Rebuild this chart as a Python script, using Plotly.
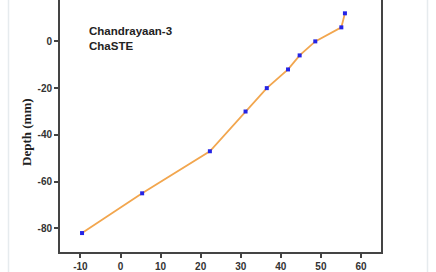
import plotly.graph_objects as go

temperature = [-9.6, 5.4, 22.3, 31.2, 36.5, 41.8, 44.7, 48.6, 55.1, 56.0]
depth = [-82, -65, -47, -30, -20, -12, -6, 0, 6, 12]
x_ticks = [-10, 0, 10, 20, 30, 40, 50, 60]
y_ticks = [-80, -60, -40, -20, 0]

fig = go.Figure()
fig.add_trace(go.Scatter(
    x=temperature, y=depth, mode="lines+markers",
    line=dict(color="#f2a64e", width=1.8),
    marker=dict(symbol="square", size=4, color="#2424e6"),
    showlegend=False,
))

axis_font = dict(family="Arial, Liberation Sans, sans-serif", size=10, color="#333333")
fig.update_xaxes(
    range=[-15.1, 65], tickvals=x_ticks,
    ticktext=[f"<b>{v}</b>" for v in x_ticks],
    showgrid=False, zeroline=False,
    showline=True, linecolor="#444444", linewidth=2, mirror=False,
    ticks="outside", ticklen=4, tickwidth=1.5, tickcolor="#444444",
    tickfont=axis_font,
)
fig.update_yaxes(
    range=[-90.1, 17.7], tickvals=y_ticks,
    ticktext=[f"<b>{v}</b>" for v in y_ticks],
    showgrid=False, zeroline=False,
    showline=True, linecolor="#444444", linewidth=2, mirror=True,
    ticks="outside", ticklen=4, tickwidth=1.5, tickcolor="#444444",
    tickfont=axis_font,
)

fig.add_annotation(
    xref="paper", yref="paper", x=(27 - 60) / 321, y=1 - 134 / 256,
    xanchor="center", yanchor="middle", showarrow=False, textangle=-90,
    text="<b>Depth (mm)</b>",
    font=dict(family="Liberation Serif, Times New Roman, serif", size=13, color="#222222"),
)

fig.add_annotation(
    xref="paper", yref="paper", x=(87 - 60) / 321, y=1 - 23 / 256,
    xanchor="left", yanchor="top", showarrow=False, align="left",
    text="<b>Chandrayaan-3<br>ChaSTE</b>",
    font=dict(family="Arial, Liberation Sans, sans-serif", size=11.5, color="#222222"),
)

for px in (8.5, 427.5):
    xp = (px - 60) / 321
    fig.add_shape(type="line", xref="paper", yref="paper", x0=xp, x1=xp, y0=-0.1, y1=1.1,
                  line=dict(color="#e6ebee", width=1.5))

fig.update_layout(
    width=436, height=272,
    margin=dict(l=60, r=55, t=0, b=16),
    paper_bgcolor="white", plot_bgcolor="white",
)

fig.write_html("out.html")
